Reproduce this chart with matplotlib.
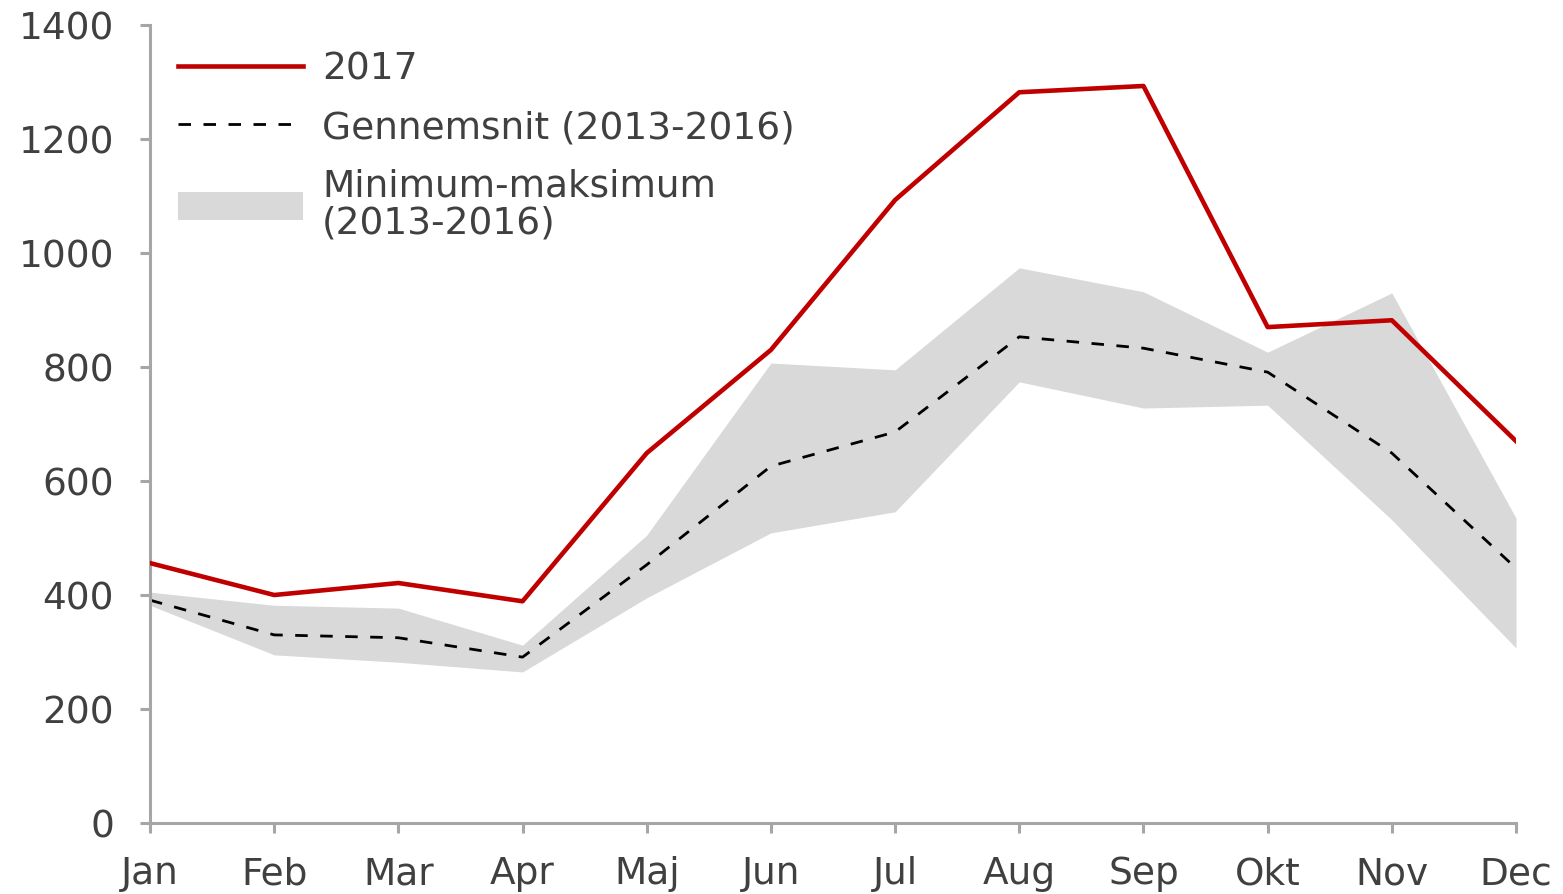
import matplotlib.pyplot as plt
from matplotlib.patches import Patch
from matplotlib.lines import Line2D

months = ['Jan', 'Feb', 'Mar', 'Apr', 'Maj', 'Jun', 'Jul', 'Aug', 'Sep', 'Okt', 'Nov', 'Dec']
val_2017 = [456, 400, 421, 389, 649, 830, 1093, 1282, 1293, 870, 882, 670]
avg_13_16 = [391, 330, 325, 291, 453, 626, 686, 853, 833, 791, 649, 447]
max_13_16 = [405, 382, 377, 312, 505, 807, 795, 974, 932, 826, 930, 535]
min_13_16 = [382, 295, 282, 265, 395, 509, 546, 774, 728, 733, 532, 307]

plt.rcParams['font.family'] = ['DejaVu Sans']
txt = '#404040'
axc = '#a6a6a6'
dash = (0, (4.5, 4.5))

fig = plt.figure(figsize=(15.63, 8.94), dpi=100)
ax = fig.add_axes([150/1563, 71/894, 1366/1563, 798/894])

x = list(range(len(months)))
ax.fill_between(x, min_13_16, max_13_16, color='#d9d9d9', linewidth=0, zorder=1)
ax.plot(x, avg_13_16, color='black', linewidth=2, linestyle=dash, zorder=2)
ax.plot(x, val_2017, color='#c00000', linewidth=3.3, zorder=3)

ax.set_xlim(0, 11)
ax.set_ylim(0, 1400)
ax.set_yticks(range(0, 1401, 200))
ax.set_xticks(x)
ax.set_xticklabels(months)

for s in ['top', 'right']:
    ax.spines[s].set_visible(False)
for s in ['left', 'bottom']:
    ax.spines[s].set_color(axc)
    ax.spines[s].set_linewidth(2.2)
ax.tick_params(axis='both', colors=axc, width=2.2, length=7, labelcolor=txt, labelsize=27)
ax.tick_params(axis='x', pad=17)
ax.tick_params(axis='y', pad=19)

handles = [
    Line2D([], [], color='#c00000', linewidth=3.3),
    Line2D([], [], color='black', linewidth=2, linestyle=dash),
    Patch(facecolor='#d9d9d9', edgecolor='none'),
]
labels = ['2017', 'Gennemsnit (2013-2016)', 'Minimum-maksimum\n(2013-2016)']
leg = ax.legend(handles, labels, loc='upper left', bbox_to_anchor=(0.0098, 0.985),
                frameon=False, fontsize=27, handlelength=3.33, handleheight=0.8,
                handletextpad=0.5, labelspacing=0.59, borderaxespad=0)
for t in leg.get_texts():
    t.set_color(txt)
    t.set_linespacing(1.05)

plt.savefig('out.png', dpi=100)
